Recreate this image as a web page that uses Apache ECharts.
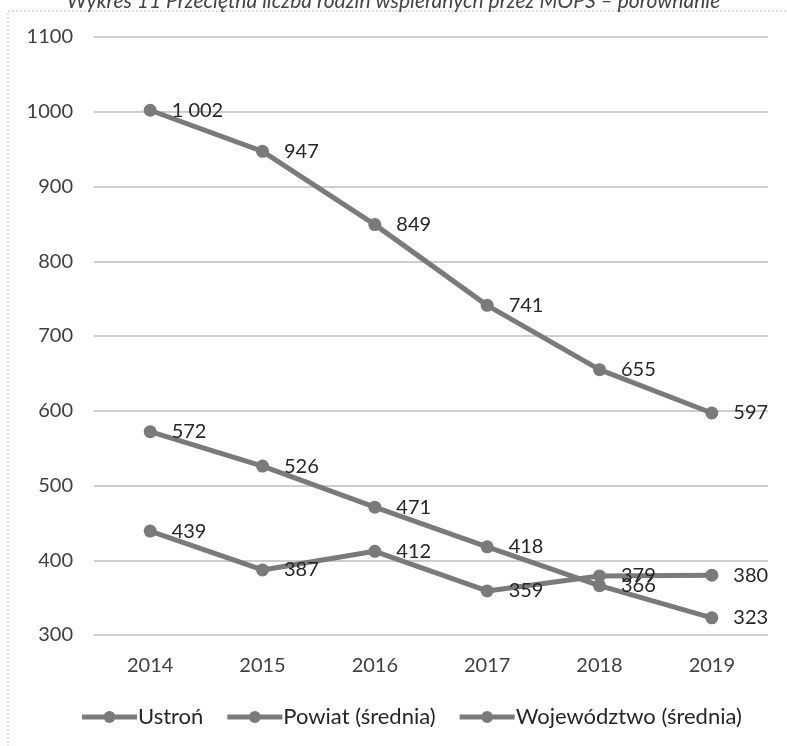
<!DOCTYPE html>
<html><head><meta charset="utf-8">
<script src="https://cdn.jsdelivr.net/npm/echarts@6/dist/echarts.min.js"></script>
<style>html,body{margin:0;padding:0;background:#fff}#c{width:787px;height:746px}</style>
</head><body><div id="c"></div>
<script>
const categories = ['2014','2015','2016','2017','2018','2019'];
const ustron = [1002, 947, 849, 741, 655, 597];
const powiat = [572, 526, 471, 418, 366, 323];
const wojewodztwo = [439, 387, 412, 359, 379, 380];
const seriesNames = ['Ustroń', 'Powiat (średnia)', 'Województwo (średnia)'];
const titleText = 'Wykres 11 Przeciętna liczba rodzin wspieranych przez MOPS – porównanie';

const fmt = v => v >= 1000 ? String(v).replace(/(\d)(\d{3})$/, '$1 $2') : String(v);
const lineColor = '#7a7a7a';
const FONT = 'Lato';
function mk(name, data) {
  return {
    name, type: 'line', data,
    symbol: 'circle', symbolSize: 13,
    lineStyle: { width: 5, color: lineColor },
    itemStyle: { color: lineColor },
    label: { show: true, position: 'right', distance: 15, color: '#262626', fontSize: 20,
      fontFamily: FONT, formatter: p => fmt(p.value) },
    z: 3
  };
}
const legendIcon = 'path://M0,3.5H55V8.5H0Z M33.5,6A6,6,0,1,1,21.5,6A6,6,0,1,1,33.5,6Z';
const chart = echarts.init(document.getElementById('c'));
chart.setOption({
  animation: false,
  title: { text: titleText, left: 'center', top: -14,
    textStyle: { fontStyle: 'italic', fontWeight: 'normal', fontSize: 21, color: '#444', fontFamily: FONT } },
  graphic: [{ type: 'rect', shape: { x: 8, y: 11, width: 800, height: 760 },
    style: { fill: 'none', stroke: '#bbb', lineWidth: 1, lineDash: [2, 2] }, z: -1 }],
  grid: { left: 94, right: 19, top: 37, bottom: 111, outerBoundsMode: 'none', containLabel: false },
  legend: { top: 701, left: 77, itemWidth: 55, itemHeight: 12, itemGap: 24,
    textStyle: { fontSize: 22, color: '#262626', fontFamily: FONT, padding: [0, 0, 0, -4] },
    data: seriesNames.map(n => ({ name: n, icon: legendIcon })) },
  xAxis: { type: 'category', data: categories, boundaryGap: true,
    axisLine: { show: false }, axisTick: { show: false },
    axisLabel: { fontSize: 20, color: '#404040', margin: 21, fontFamily: FONT } },
  yAxis: { type: 'value', min: 300, max: 1100, interval: 100,
    axisLabel: { fontSize: 20, color: '#404040', margin: 21, fontFamily: FONT, formatter: v => String(v) },
    splitLine: { lineStyle: { color: '#bdbdbd', width: 1.5 } },
    axisLine: { show: false }, axisTick: { show: false } },
  series: [mk(seriesNames[0], ustron), mk(seriesNames[1], powiat), mk(seriesNames[2], wojewodztwo)]
});
</script></body></html>
